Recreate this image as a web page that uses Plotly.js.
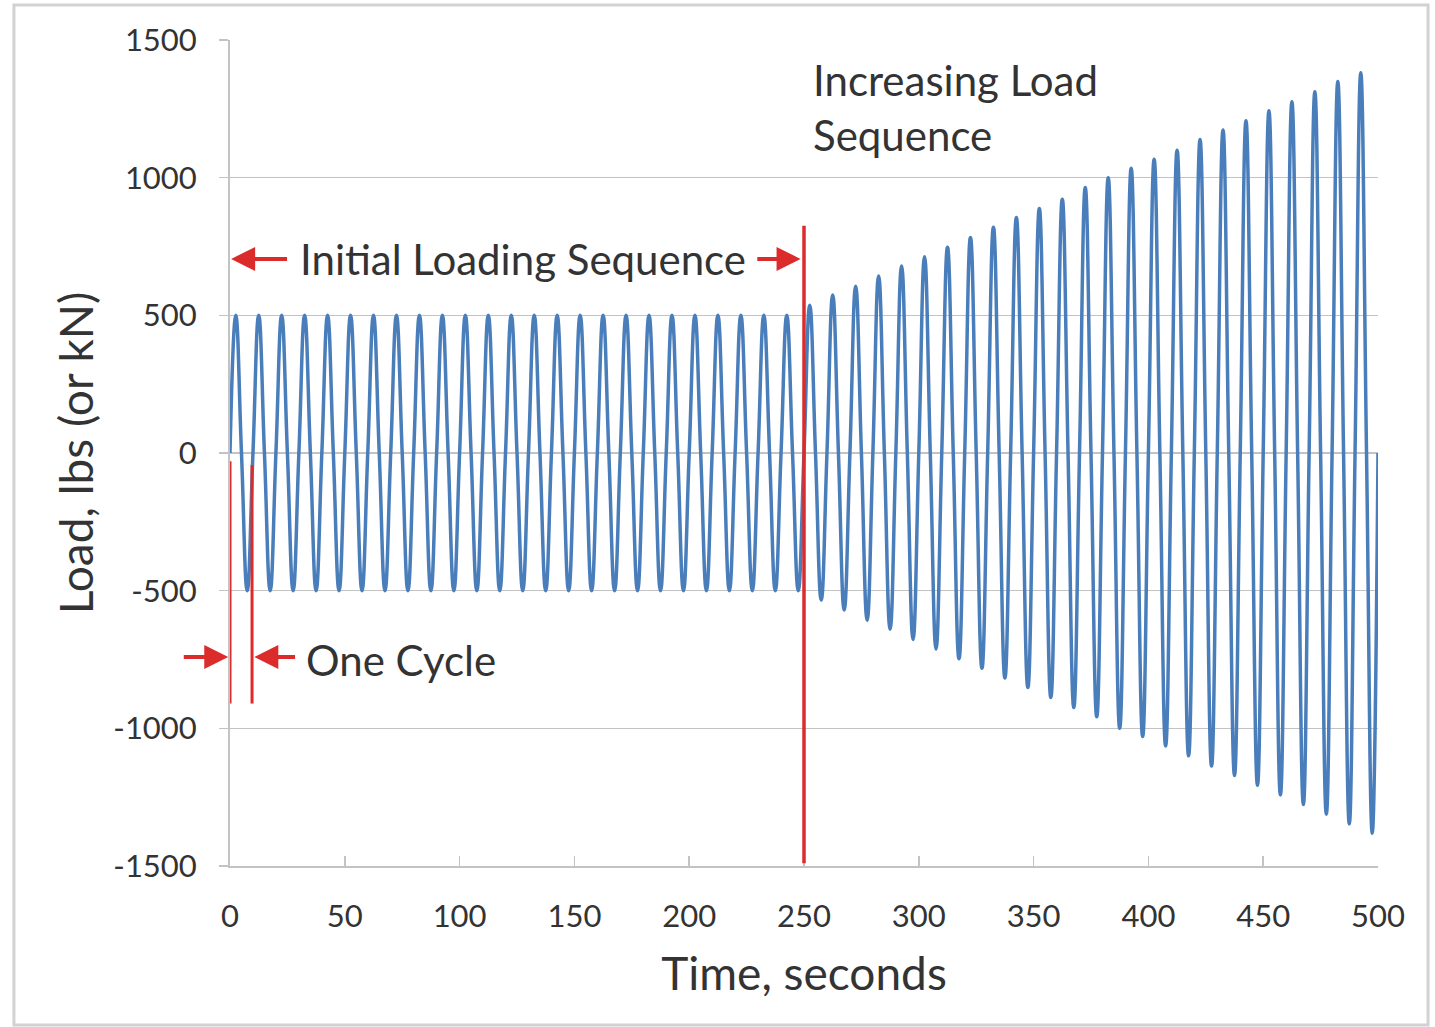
<!DOCTYPE html>
<html>
<head>
<meta charset="utf-8">
<script src="https://cdn.plot.ly/plotly-3.0.1.min.js"></script>
<style>html,body{margin:0;padding:0;background:#fff;}#chart{width:1435px;height:1027px;}</style>
</head>
<body>
<div id="chart"></div>
<script>
// ---- Data ----
// Start time (s) of each load cycle (10 s per cycle)
const cycleStart = [0,10,20,30,40,50,60,70,80,90,100,110,120,130,140,150,160,170,180,190,200,210,220,230,240,
                    250,260,270,280,290,300,310,320,330,340,350,360,370,380,390,400,410,420,430,440,450,460,470,480,490];
const endTime = 500;
// Positive peak load of each cycle
const peakLoad = [500,500,500,500,500,500,500,500,500,500,500,500,500,500,500,500,500,500,500,500,500,500,500,500,500,
                  537,574,606,643,679,713,747,783,820,855,888,922,964,1000,1034,1067,1100,1139,1173,1207,1243,1276,1312,1349,1381];
// Negative trough load of each cycle
const troughLoad = [-500,-500,-500,-500,-500,-500,-500,-500,-500,-500,-500,-500,-500,-500,-500,-500,-500,-500,-500,-500,-500,-500,-500,-500,-500,
                    -534,-570,-607,-640,-677,-712,-747,-782,-817,-852,-888,-924,-958,-1000,-1030,-1064,-1100,-1137,-1171,-1207,-1242,-1277,-1312,-1347,-1381];

const xTicks = [0,50,100,150,200,250,300,350,400,450,500];
const yTicks = [-1500,-1000,-500,0,500,1000,1500];

// Annotation marker data (red lines and arrows)
const oneCycleLines = [{t:0, top:-30, bottom:-910}, {t:9.6, top:-44, bottom:-910}];
const sequenceDivider = {t:250, top:825, bottom:-1490};

// ---- Build the trace: each cycle passes zero, its peak, zero, its trough ----
const tx = [], ty = [];
for (let i = 0; i < cycleStart.length; i++) {
  const s = cycleStart[i];
  const next = (i + 1 < cycleStart.length) ? cycleStart[i+1] : endTime;
  const q = (next - s) / 4;
  tx.push(s, s + q, s + 2*q, s + 3*q);
  ty.push(0, peakLoad[i], 0, troughLoad[i]);
}
tx.push(endTime); ty.push(0);

const FONT = 'Lato, "Open Sans", sans-serif';
const RED = '#dc2b2b';
const GRID = '#c3c3c3';
const TXT = '#333333';

const trace = {
  x: tx, y: ty, type: 'scatter', mode: 'lines',
  line: {color: '#4a7ebb', width: 3.5, shape: 'spline', smoothing: 1.3},
  hoverinfo: 'x+y', showlegend: false
};

const shapes = [
  {type:'rect', xref:'paper', yref:'paper', x0:-0.1882, x1:1.0436, y0:-0.1925, y1:1.0424,
   line:{color:'#d2d2d2', width:3}, fillcolor:'rgba(0,0,0,0)', layer:'below'}
];
oneCycleLines.forEach(l => shapes.push({type:'line', xref:'x', yref:'y', x0:l.t, x1:l.t, y0:l.top, y1:l.bottom,
  line:{color:RED, width:3}}));
shapes.push({type:'line', xref:'x', yref:'y', x0:sequenceDivider.t, x1:sequenceDivider.t,
  y0:sequenceDivider.top, y1:sequenceDivider.bottom, line:{color:RED, width:3.5}});

function arrow(xTip, yTip, xTail, yTail) {
  return {x:xTip, y:yTip, ax:xTail, ay:yTail, xref:'x', yref:'y', axref:'x', ayref:'y',
    text:'', showarrow:true, arrowhead:2, arrowsize:1.2, arrowwidth:4, arrowcolor:RED};
}

const annotations = [
  {x:127.5, y:705, xref:'x', yref:'y', text:'Initial Loading Sequence', showarrow:false,
   font:{family:FONT, size:42, color:TXT}},
  arrow(0.5, 705, 25.5, 705),
  arrow(248.5, 705, 229, 705),
  {x:253, y:1255, xref:'x', yref:'y', text:'Increasing Load<br>Sequence', showarrow:false,
   xanchor:'left', align:'left', font:{family:FONT, size:42, color:TXT}},
  {x:74.5, y:-752, xref:'x', yref:'y', text:'One Cycle', showarrow:false,
   font:{family:FONT, size:42, color:TXT}},
  // arrow left of the plot area: tip anchored in paper coordinates, tail given as pixel offset
  {x:-0.0015, y:-741, xref:'paper', yref:'y', ax:-46, ay:0, axref:'pixel', ayref:'pixel',
   text:'', showarrow:true, arrowhead:2, arrowsize:1.2, arrowwidth:4, arrowcolor:RED},
  arrow(10.6, -741, 29, -741)
];

const layout = {
  width: 1435, height: 1027,
  margin: {l:230, r:57, t:40, b:161, pad:0},
  paper_bgcolor: '#ffffff', plot_bgcolor: '#ffffff',
  showlegend: false,
  font: {family: FONT, color: TXT},
  xaxis: {
    range: [0, 500], tickvals: xTicks, ticktext: xTicks.map(String),
    showgrid: false, zeroline: false,
    showline: true, linecolor: GRID, linewidth: 2,
    ticks: 'inside', ticklen: 10, tickwidth: 1.5, tickcolor: GRID,
    tickfont: {family: FONT, size: 31, color: TXT},
    ticklabelstandoff: 22,
    title: {text: 'Time, seconds', font: {family: FONT, size: 46, color: TXT}, standoff: 25},
    automargin: false, fixedrange: true
  },
  yaxis: {
    range: [-1500, 1500], tickvals: yTicks, ticktext: yTicks.map(String),
    showgrid: true, gridcolor: GRID, gridwidth: 1.5, zeroline: false,
    showline: true, linecolor: GRID, linewidth: 2,
    ticks: 'outside', ticklen: 9, tickwidth: 1.5, tickcolor: GRID,
    tickfont: {family: FONT, size: 31, color: TXT},
    ticklabelstandoff: 16,
    title: {text: 'Load, lbs (or kN)', font: {family: FONT, size: 46, color: TXT}, standoff: 5},
    automargin: false, fixedrange: true
  },
  shapes: shapes,
  annotations: annotations
};

Plotly.newPlot('chart', [trace], layout, {displayModeBar: false, staticPlot: true});
</script>
</body>
</html>
